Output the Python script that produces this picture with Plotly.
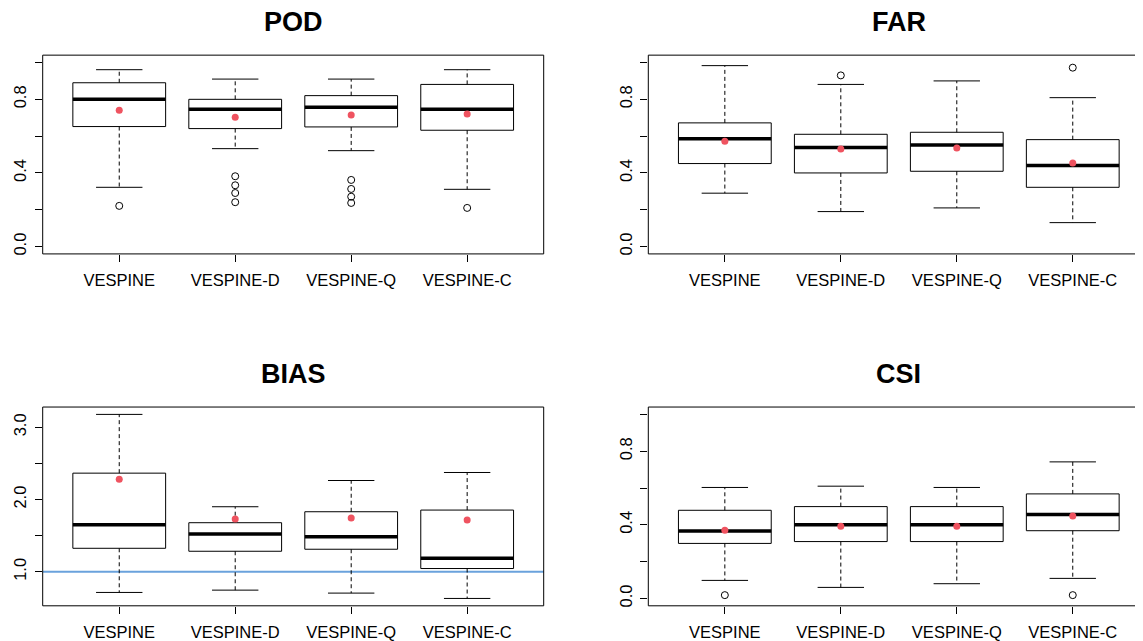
import plotly.graph_objects as go

# ---------------- data ----------------
categories = ["VESPINE", "VESPINE-D", "VESPINE-Q", "VESPINE-C"]
positions = [1, 2, 3, 4]

pod_low = [0.322, 0.532, 0.521, 0.311]
pod_q1 = [0.652, 0.641, 0.650, 0.632]
pod_med = [0.800, 0.746, 0.757, 0.746]
pod_q3 = [0.890, 0.800, 0.820, 0.881]
pod_high = [0.961, 0.910, 0.910, 0.961]
pod_mean = [0.740, 0.702, 0.715, 0.720]
pod_out = [[0.221], [0.382, 0.333, 0.291, 0.241], [0.362, 0.313, 0.271, 0.237], [0.210]]

far_low = [0.290, 0.190, 0.210, 0.130]
far_q1 = [0.451, 0.400, 0.409, 0.322]
far_med = [0.586, 0.538, 0.552, 0.440]
far_q3 = [0.672, 0.610, 0.621, 0.581]
far_high = [0.983, 0.881, 0.900, 0.809]
far_mean = [0.572, 0.530, 0.536, 0.454]
far_out = [[], [0.930], [], [0.972]]

bias_low = [0.715, 0.747, 0.706, 0.632]
bias_q1 = [1.326, 1.285, 1.313, 1.046]
bias_med = [1.653, 1.524, 1.487, 1.189]
bias_q3 = [2.366, 1.680, 1.832, 1.855]
bias_high = [3.179, 1.901, 2.264, 2.375]
bias_mean = [2.283, 1.731, 1.745, 1.717]
bias_out = [[], [], [], []]
bias_ref = 1.0

csi_low = [0.098, 0.060, 0.080, 0.109]
csi_q1 = [0.299, 0.309, 0.309, 0.368]
csi_med = [0.367, 0.401, 0.401, 0.456]
csi_q3 = [0.479, 0.499, 0.499, 0.568]
csi_high = [0.603, 0.610, 0.603, 0.742]
csi_mean = [0.370, 0.392, 0.392, 0.448]
csi_out = [[0.018], [], [], [0.018]]

unit_ticks = [0.0, 0.2, 0.4, 0.6, 0.8, 1.0]
unit_labels = ["0.0", "", "0.4", "", "0.8", ""]
bias_ticks = [1.0, 1.5, 2.0, 2.5, 3.0]
bias_labels = ["1.0", "", "2.0", "", "3.0"]

titles = ["POD", "FAR", "BIAS", "CSI"]

# ---------------- layout geometry (page pixels) ----------------
W, H = 1143, 641
OFF = 8  # default body margin of the html page
FW, FH = W - OFF, H - OFF
FONT = "Liberation Sans, Arial, Helvetica, sans-serif"
BOXHALF = 0.4
CAPHALF = 0.2
XR = [0.34, 4.66]
px_per_unit = 501.0 / (XR[1] - XR[0])

left_cols = [(42.7, 543.7), (648.3, 1149.3)]
rows = [(55.3, 254.7), (408.3, 607.7)]


def px_x(x):
    return (x - OFF) / FW


def px_y(y):
    return 1 - (y - OFF) / FH


def xdom(col):
    a, b = left_cols[col]
    return [px_x(a), min(px_x(b), 1.0)]


def xrange_for(col):
    a, b = left_cols[col]
    vis = min(b, W) - a
    return [XR[0], XR[0] + vis / px_per_unit]


def ydom(row):
    t, b = rows[row]
    return [px_y(b), px_y(t)]


fig = go.Figure()

panels = [
    dict(low=pod_low, q1=pod_q1, med=pod_med, q3=pod_q3, high=pod_high, mean=pod_mean, out=pod_out,
         ticks=unit_ticks, labels=unit_labels, yr=[-0.04, 1.04], col=0, row=0),
    dict(low=far_low, q1=far_q1, med=far_med, q3=far_q3, high=far_high, mean=far_mean, out=far_out,
         ticks=unit_ticks, labels=unit_labels, yr=[-0.04, 1.04], col=1, row=0),
    dict(low=bias_low, q1=bias_q1, med=bias_med, q3=bias_q3, high=bias_high, mean=bias_mean, out=bias_out,
         ticks=bias_ticks, labels=bias_labels, yr=None, col=0, row=1),
    dict(low=csi_low, q1=csi_q1, med=csi_med, q3=csi_q3, high=csi_high, mean=csi_mean, out=csi_out,
         ticks=unit_ticks, labels=unit_labels, yr=[-0.04, 1.04], col=1, row=1),
]

shapes = []
annotations = []

for k, p in enumerate(panels):
    n = k + 1
    xa = "x" if n == 1 else f"x{n}"
    ya = "y" if n == 1 else f"y{n}"
    if p["yr"] is None:
        lo = min(p["low"])
        hi = max(p["high"])
        ext = 0.04 * (hi - lo)
        yr = [lo - ext, hi + ext]
    else:
        yr = p["yr"]

    bx, by = [], []
    wx, wy = [], []
    cx, cy = [], []
    mx, my = [], []
    for i, pos in enumerate(positions):
        bx += [pos - BOXHALF, pos + BOXHALF, pos + BOXHALF, pos - BOXHALF, pos - BOXHALF, None]
        by += [p["q1"][i], p["q1"][i], p["q3"][i], p["q3"][i], p["q1"][i], None]
        wx += [pos, pos, None, pos, pos, None]
        wy += [p["q3"][i], p["high"][i], None, p["q1"][i], p["low"][i], None]
        cx += [pos - CAPHALF, pos + CAPHALF, None, pos - CAPHALF, pos + CAPHALF, None]
        cy += [p["high"][i], p["high"][i], None, p["low"][i], p["low"][i], None]
        mx += [pos - BOXHALF, pos + BOXHALF, None]
        my += [p["med"][i], p["med"][i], None]

    if n == 3:
        fig.add_trace(go.Scatter(x=[XR[0] - 1, XR[1] + 1], y=[bias_ref, bias_ref], mode="lines",
                                 line=dict(color="#6AA2DC", width=2), xaxis=xa, yaxis=ya,
                                 hoverinfo="skip", showlegend=False))

    fig.add_trace(go.Scatter(x=wx, y=wy, mode="lines", line=dict(color="black", width=1, dash="4px,3px"),
                             xaxis=xa, yaxis=ya, hoverinfo="skip", showlegend=False))
    fig.add_trace(go.Scatter(x=cx, y=cy, mode="lines", line=dict(color="black", width=1),
                             xaxis=xa, yaxis=ya, hoverinfo="skip", showlegend=False))
    fig.add_trace(go.Scatter(x=bx, y=by, mode="lines", line=dict(color="black", width=1),
                             xaxis=xa, yaxis=ya, hoverinfo="skip", showlegend=False))
    fig.add_trace(go.Scatter(x=mx, y=my, mode="lines", line=dict(color="black", width=3.5),
                             xaxis=xa, yaxis=ya, hoverinfo="skip", showlegend=False))
    ox, oy = [], []
    for i, pos in enumerate(positions):
        for v in p["out"][i]:
            ox.append(pos)
            oy.append(v)
    if ox:
        fig.add_trace(go.Scatter(x=ox, y=oy, mode="markers",
                                 marker=dict(symbol="circle-open", size=7, color="black", line=dict(width=1)),
                                 xaxis=xa, yaxis=ya, hoverinfo="skip", showlegend=False))
    fig.add_trace(go.Scatter(x=positions, y=p["mean"], mode="markers",
                             marker=dict(symbol="circle", size=7, color="#EF5360"),
                             xaxis=xa, yaxis=ya, hoverinfo="skip", showlegend=False))

    axis_x = dict(domain=xdom(p["col"]), range=xrange_for(p["col"]), anchor=ya,
                  tickmode="array", tickvals=positions, ticktext=categories,
                  ticks="outside", ticklen=7, tickwidth=1, tickcolor="black",
                  showgrid=False, zeroline=False, showline=False, fixedrange=True,
                  ticklabelstandoff=4,
                  tickfont=dict(family=FONT, size=16.5, color="black"))
    axis_y = dict(domain=ydom(p["row"]), range=yr, anchor=xa,
                  tickmode="array", tickvals=p["ticks"], ticktext=p["labels"],
                  ticks="outside", ticklen=7, tickwidth=1, tickcolor="black", tickangle=-90,
                  showgrid=False, zeroline=False, showline=False, fixedrange=True,
                  ticklabelstandoff=2,
                  tickfont=dict(family=FONT, size=16.5, color="black"))
    fig.layout[("xaxis" if n == 1 else f"xaxis{n}")] = axis_x
    fig.layout[("yaxis" if n == 1 else f"yaxis{n}")] = axis_y

    xd = xa + " domain"
    yd = ya + " domain"
    lw = dict(color="black", width=1)
    if p["col"] == 0:
        shapes.append(dict(type="rect", xref=xd, yref=yd, x0=0, x1=1, y0=0, y1=1, line=lw, layer="above"))
    else:
        shapes.append(dict(type="line", xref=xd, yref=yd, x0=0, x1=0, y0=0, y1=1, line=lw, layer="above"))
        shapes.append(dict(type="line", xref=xd, yref=yd, x0=0, x1=1, y0=1, y1=1, line=lw, layer="above"))
        shapes.append(dict(type="line", xref=xd, yref=yd, x0=0, x1=1, y0=0, y1=0, line=lw, layer="above"))

    a, b = left_cols[p["col"]]
    t, _ = rows[p["row"]]
    annotations.append(dict(text="<b>" + titles[k] + "</b>", xref="paper", yref="paper",
                            x=px_x((a + b) / 2), y=px_y(t - 33), xanchor="center", yanchor="middle",
                            showarrow=False, font=dict(family=FONT, size=27, color="black")))

fig.update_layout(width=FW, height=FH, margin=dict(l=0, r=0, t=0, b=0),
                  paper_bgcolor="white", plot_bgcolor="white",
                  shapes=shapes, annotations=annotations, showlegend=False)

fig.write_html("out.html")
